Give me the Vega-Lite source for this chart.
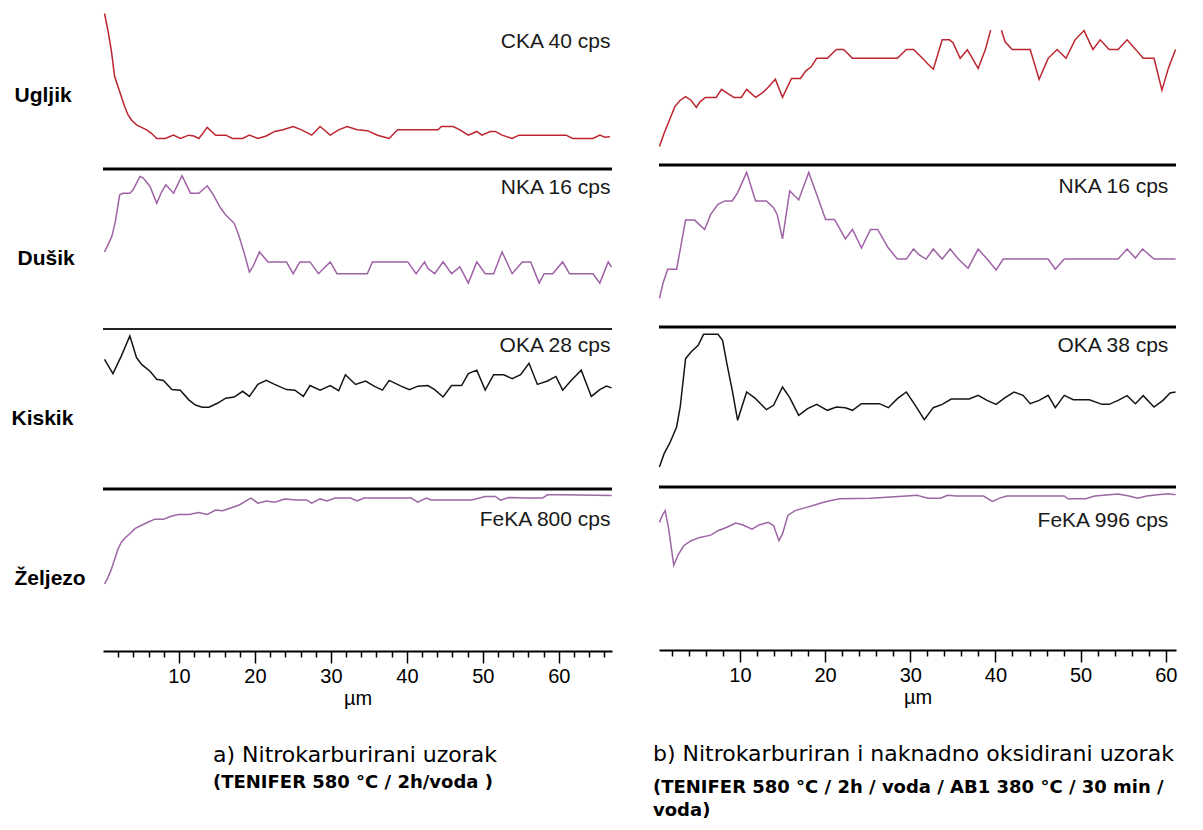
{
  "$schema": "https://vega.github.io/schema/vega-lite/v6.json",
  "padding": {"left": 11, "top": 4, "right": 0, "bottom": 0},
  "config": {"view": {"stroke": null}, "axis": {"grid": false}, "font": "Liberation Sans"},
  "datasets": {
    "aC": [{"x":0.2,"v":37.7},{"x":0.64,"v":33.7},{"x":1.09,"v":28.8},{"x":1.53,"v":22.4},{"x":1.97,"v":20.0},{"x":2.42,"v":17.5},{"x":2.86,"v":15.1},{"x":3.3,"v":13.1},{"x":3.75,"v":11.9},{"x":4.41,"v":10.7},{"x":5.08,"v":10.1},{"x":5.74,"v":9.5},{"x":6.41,"v":8.6},{"x":7.07,"v":7.4},{"x":8.18,"v":7.4},{"x":9.29,"v":8.2},{"x":10.18,"v":7.4},{"x":11.29,"v":8.2},{"x":11.95,"v":8.0},{"x":12.62,"v":7.4},{"x":13.72,"v":10.1},{"x":14.83,"v":8.2},{"x":16.16,"v":8.2},{"x":17.05,"v":7.4},{"x":18.38,"v":7.4},{"x":19.27,"v":8.2},{"x":20.38,"v":7.4},{"x":21.49,"v":8.0},{"x":22.59,"v":9.1},{"x":23.7,"v":9.5},{"x":25.03,"v":10.3},{"x":26.14,"v":9.5},{"x":27.47,"v":8.2},{"x":28.58,"v":10.3},{"x":29.91,"v":8.2},{"x":31.02,"v":9.5},{"x":32.13,"v":10.3},{"x":33.46,"v":9.5},{"x":34.79,"v":9.3},{"x":36.12,"v":8.2},{"x":37.67,"v":7.4},{"x":38.78,"v":9.5},{"x":40.11,"v":9.5},{"x":44.1,"v":9.5},{"x":44.54,"v":10.3},{"x":46.1,"v":10.3},{"x":46.98,"v":9.5},{"x":48.09,"v":8.2},{"x":49.2,"v":9.1},{"x":49.87,"v":8.2},{"x":50.98,"v":9.1},{"x":51.64,"v":9.1},{"x":52.53,"v":8.2},{"x":53.86,"v":7.4},{"x":54.75,"v":8.2},{"x":56.08,"v":8.2},{"x":60.96,"v":8.2},{"x":61.84,"v":7.4},{"x":64.5,"v":7.4},{"x":65.39,"v":8.2},{"x":66.06,"v":7.7},{"x":66.72,"v":7.8}],
    "aN": [{"x":0.2,"v":7.71},{"x":0.64,"v":8.39},{"x":1.18,"v":9.29},{"x":1.62,"v":10.73},{"x":2.2,"v":13.42},{"x":2.64,"v":13.58},{"x":3.53,"v":13.58},{"x":3.97,"v":13.92},{"x":4.86,"v":15.26},{"x":5.3,"v":15.09},{"x":6.19,"v":14.25},{"x":7.07,"v":12.58},{"x":7.74,"v":13.75},{"x":8.27,"v":14.42},{"x":9.29,"v":13.58},{"x":10.4,"v":15.33},{"x":11.51,"v":13.58},{"x":12.62,"v":13.58},{"x":13.72,"v":14.32},{"x":14.39,"v":13.58},{"x":15.5,"v":12.07},{"x":16.16,"v":11.4},{"x":17.27,"v":10.57},{"x":17.94,"v":9.22},{"x":18.6,"v":7.55},{"x":19.27,"v":5.7},{"x":19.71,"v":6.2},{"x":20.6,"v":7.71},{"x":21.71,"v":6.71},{"x":24.15,"v":6.71},{"x":25.03,"v":5.53},{"x":25.92,"v":6.71},{"x":27.25,"v":6.71},{"x":28.36,"v":5.53},{"x":29.91,"v":6.71},{"x":30.8,"v":5.53},{"x":34.79,"v":5.53},{"x":35.46,"v":6.71},{"x":40.11,"v":6.71},{"x":41.22,"v":5.53},{"x":42.33,"v":6.71},{"x":42.77,"v":6.04},{"x":43.66,"v":5.53},{"x":44.77,"v":6.71},{"x":45.88,"v":5.53},{"x":46.98,"v":6.2},{"x":48.09,"v":4.59},{"x":49.2,"v":6.71},{"x":50.31,"v":5.53},{"x":51.42,"v":5.53},{"x":52.53,"v":7.71},{"x":53.86,"v":5.53},{"x":55.19,"v":6.71},{"x":56.3,"v":6.71},{"x":57.41,"v":4.59},{"x":58.07,"v":5.53},{"x":59.18,"v":5.53},{"x":60.51,"v":6.71},{"x":61.4,"v":5.53},{"x":64.5,"v":5.53},{"x":65.39,"v":4.59},{"x":66.5,"v":6.71},{"x":66.94,"v":6.2}],
    "aO": [{"x":0.2,"v":22.7},{"x":1.31,"v":20.2},{"x":2.42,"v":23.3},{"x":3.53,"v":26.8},{"x":4.41,"v":23.0},{"x":5.08,"v":21.8},{"x":6.19,"v":20.6},{"x":7.07,"v":19.2},{"x":7.96,"v":19.0},{"x":9.07,"v":17.4},{"x":10.18,"v":17.3},{"x":11.29,"v":15.6},{"x":12.17,"v":14.7},{"x":13.06,"v":14.3},{"x":13.95,"v":14.3},{"x":15.05,"v":15.0},{"x":16.16,"v":15.9},{"x":17.27,"v":16.1},{"x":18.38,"v":17.1},{"x":19.27,"v":16.2},{"x":20.38,"v":18.3},{"x":21.49,"v":19.0},{"x":22.59,"v":18.3},{"x":24.15,"v":17.4},{"x":25.26,"v":17.3},{"x":26.37,"v":16.2},{"x":27.25,"v":18.1},{"x":28.58,"v":17.3},{"x":29.91,"v":18.1},{"x":31.02,"v":17.2},{"x":31.91,"v":20.0},{"x":33.24,"v":18.3},{"x":34.57,"v":18.9},{"x":35.68,"v":18.0},{"x":36.78,"v":17.3},{"x":37.67,"v":19.0},{"x":39.23,"v":18.0},{"x":40.33,"v":17.4},{"x":41.44,"v":18.0},{"x":42.77,"v":18.1},{"x":43.66,"v":17.4},{"x":44.77,"v":16.1},{"x":45.88,"v":18.1},{"x":47.2,"v":18.1},{"x":48.09,"v":20.2},{"x":49.2,"v":20.8},{"x":50.31,"v":17.3},{"x":51.42,"v":20.0},{"x":52.75,"v":20.0},{"x":53.86,"v":19.3},{"x":54.97,"v":20.0},{"x":56.08,"v":22.0},{"x":57.18,"v":18.3},{"x":58.51,"v":18.9},{"x":59.62,"v":19.7},{"x":60.51,"v":17.3},{"x":61.62,"v":19.0},{"x":62.95,"v":20.8},{"x":64.28,"v":16.2},{"x":65.39,"v":17.4},{"x":66.28,"v":18.0},{"x":66.94,"v":17.7}],
    "aFe": [{"x":0.2,"v":332},{"x":0.64,"v":361},{"x":1.09,"v":403},{"x":1.53,"v":453},{"x":1.97,"v":503},{"x":2.42,"v":537},{"x":2.86,"v":557},{"x":3.53,"v":579},{"x":4.19,"v":604},{"x":5.08,"v":621},{"x":5.96,"v":637},{"x":6.85,"v":651},{"x":7.96,"v":651},{"x":9.07,"v":667},{"x":9.95,"v":674},{"x":11.29,"v":674},{"x":12.62,"v":684},{"x":13.72,"v":674},{"x":14.83,"v":696},{"x":15.72,"v":693},{"x":16.61,"v":704},{"x":17.94,"v":721},{"x":19.05,"v":746},{"x":19.49,"v":755},{"x":20.38,"v":730},{"x":21.49,"v":741},{"x":22.59,"v":735},{"x":23.92,"v":751},{"x":25.48,"v":746},{"x":26.81,"v":746},{"x":27.47,"v":730},{"x":28.58,"v":751},{"x":29.47,"v":741},{"x":30.58,"v":755},{"x":32.57,"v":755},{"x":33.46,"v":741},{"x":34.35,"v":755},{"x":40.56,"v":755},{"x":41.44,"v":735},{"x":42.55,"v":755},{"x":43.21,"v":746},{"x":48.54,"v":746},{"x":50.31,"v":763},{"x":51.64,"v":763},{"x":52.31,"v":745},{"x":53.42,"v":758},{"x":55.63,"v":755},{"x":57.85,"v":755},{"x":58.51,"v":771},{"x":60.51,"v":771},{"x":66.94,"v":768}],
    "bC": [{"x":0.55,"v":4.6,"seg":1},{"x":1.1,"v":7.9,"seg":1},{"x":1.73,"v":11.2,"seg":1},{"x":2.36,"v":14.5,"seg":1},{"x":2.99,"v":16.1,"seg":1},{"x":3.62,"v":17.0,"seg":1},{"x":4.26,"v":16.1,"seg":1},{"x":4.89,"v":14.3,"seg":1},{"x":5.31,"v":15.7,"seg":1},{"x":5.94,"v":16.8,"seg":1},{"x":7.21,"v":16.8,"seg":1},{"x":7.84,"v":18.8,"seg":1},{"x":8.68,"v":17.6,"seg":1},{"x":9.31,"v":16.8,"seg":1},{"x":10.16,"v":16.8,"seg":1},{"x":10.79,"v":18.8,"seg":1},{"x":11.84,"v":16.8,"seg":1},{"x":12.68,"v":18.0,"seg":1},{"x":13.32,"v":19.3,"seg":1},{"x":14.16,"v":21.3,"seg":1},{"x":15.0,"v":16.8,"seg":1},{"x":16.06,"v":21.5,"seg":1},{"x":17.11,"v":21.5,"seg":1},{"x":17.74,"v":23.4,"seg":1},{"x":18.37,"v":24.4,"seg":1},{"x":19.01,"v":26.5,"seg":1},{"x":20.27,"v":26.5,"seg":1},{"x":21.32,"v":28.7,"seg":1},{"x":22.17,"v":28.7,"seg":1},{"x":23.22,"v":26.5,"seg":1},{"x":28.49,"v":26.5,"seg":1},{"x":29.54,"v":28.7,"seg":1},{"x":30.38,"v":28.7,"seg":1},{"x":31.44,"v":26.5,"seg":1},{"x":32.07,"v":25.1,"seg":1},{"x":32.71,"v":23.8,"seg":1},{"x":33.75,"v":31.1,"seg":1},{"x":34.6,"v":31.1,"seg":1},{"x":35.02,"v":30.4,"seg":1},{"x":35.86,"v":26.5,"seg":1},{"x":36.7,"v":28.6,"seg":1},{"x":37.13,"v":27.1,"seg":1},{"x":37.97,"v":24.0,"seg":1},{"x":38.81,"v":28.6,"seg":1},{"x":39.44,"v":33.5,"seg":1},{"x":40.71,"v":33.5,"seg":2},{"x":41.13,"v":30.6,"seg":2},{"x":41.97,"v":28.7,"seg":2},{"x":44.08,"v":28.7,"seg":2},{"x":45.13,"v":21.3,"seg":2},{"x":46.19,"v":26.5,"seg":2},{"x":47.24,"v":28.7,"seg":2},{"x":48.29,"v":26.5,"seg":2},{"x":49.35,"v":31.1,"seg":2},{"x":50.4,"v":33.4,"seg":2},{"x":51.45,"v":28.7,"seg":2},{"x":52.3,"v":31.1,"seg":2},{"x":53.35,"v":28.7,"seg":2},{"x":54.4,"v":28.7,"seg":2},{"x":55.46,"v":31.1,"seg":2},{"x":56.51,"v":28.6,"seg":2},{"x":57.35,"v":26.5,"seg":2},{"x":58.62,"v":26.5,"seg":2},{"x":59.55,"v":18.6,"seg":2},{"x":60.3,"v":24.0,"seg":2},{"x":61.15,"v":28.7,"seg":2}],
    "bN": [{"x":0.55,"v":2.82},{"x":0.97,"v":4.32},{"x":1.52,"v":5.71},{"x":2.57,"v":5.71},{"x":2.99,"v":7.64},{"x":3.62,"v":10.56},{"x":4.68,"v":10.56},{"x":5.86,"v":9.63},{"x":6.57,"v":11.12},{"x":7.42,"v":12.12},{"x":8.26,"v":12.45},{"x":9.1,"v":12.45},{"x":9.73,"v":13.28},{"x":10.79,"v":15.27},{"x":11.84,"v":12.45},{"x":13.11,"v":12.45},{"x":13.95,"v":11.79},{"x":14.37,"v":11.12},{"x":15.0,"v":8.7},{"x":15.85,"v":13.45},{"x":16.9,"v":12.55},{"x":18.08,"v":15.27},{"x":19.22,"v":12.62},{"x":20.06,"v":10.62},{"x":21.11,"v":10.62},{"x":22.38,"v":8.7},{"x":23.22,"v":9.63},{"x":24.27,"v":7.8},{"x":25.33,"v":9.63},{"x":26.17,"v":9.63},{"x":27.43,"v":7.8},{"x":28.49,"v":6.71},{"x":29.54,"v":6.71},{"x":30.38,"v":7.7},{"x":31.02,"v":7.14},{"x":31.86,"v":6.71},{"x":32.7,"v":7.7},{"x":33.75,"v":6.71},{"x":34.68,"v":7.7},{"x":35.65,"v":6.71},{"x":36.79,"v":5.81},{"x":37.97,"v":7.7},{"x":39.02,"v":6.71},{"x":40.08,"v":5.64},{"x":40.92,"v":6.71},{"x":46.19,"v":6.71},{"x":47.03,"v":5.71},{"x":48.08,"v":6.71},{"x":54.4,"v":6.71},{"x":55.46,"v":7.7},{"x":56.43,"v":6.81},{"x":57.27,"v":7.7},{"x":58.62,"v":6.71},{"x":61.15,"v":6.71}],
    "bO": [{"x":0.55,"v":4.75},{"x":1.1,"v":7.92},{"x":1.73,"v":10.29},{"x":2.57,"v":14.25},{"x":2.99,"v":19.0},{"x":3.62,"v":30.48},{"x":4.26,"v":32.06},{"x":5.1,"v":33.65},{"x":5.73,"v":36.26},{"x":7.42,"v":36.26},{"x":7.96,"v":34.83},{"x":8.47,"v":29.29},{"x":9.1,"v":22.96},{"x":9.73,"v":15.83},{"x":10.16,"v":18.6},{"x":10.79,"v":22.56},{"x":11.84,"v":20.98},{"x":13.11,"v":18.37},{"x":13.95,"v":19.4},{"x":15.0,"v":23.75},{"x":15.85,"v":21.22},{"x":16.9,"v":17.02},{"x":17.95,"v":18.6},{"x":19.01,"v":19.63},{"x":20.27,"v":18.21},{"x":21.32,"v":19.0},{"x":22.38,"v":18.84},{"x":23.22,"v":18.21},{"x":24.27,"v":19.79},{"x":26.38,"v":19.79},{"x":27.43,"v":18.84},{"x":28.49,"v":20.98},{"x":29.54,"v":22.56},{"x":30.59,"v":19.4},{"x":31.65,"v":15.99},{"x":32.7,"v":18.84},{"x":33.75,"v":19.63},{"x":34.81,"v":20.9},{"x":36.92,"v":20.9},{"x":37.97,"v":21.77},{"x":39.02,"v":20.58},{"x":40.08,"v":19.63},{"x":41.13,"v":21.22},{"x":42.18,"v":22.56},{"x":43.24,"v":21.77},{"x":44.08,"v":19.79},{"x":45.13,"v":20.58},{"x":46.19,"v":21.77},{"x":47.03,"v":18.84},{"x":48.08,"v":21.77},{"x":49.14,"v":20.74},{"x":51.03,"v":20.74},{"x":52.51,"v":19.63},{"x":53.35,"v":19.63},{"x":54.4,"v":20.58},{"x":55.46,"v":21.69},{"x":56.43,"v":19.79},{"x":57.35,"v":21.69},{"x":58.62,"v":19.0},{"x":59.67,"v":20.58},{"x":60.51,"v":22.33},{"x":61.15,"v":22.56}],
    "bFe": [{"x":0.55,"v":780},{"x":0.88,"v":822},{"x":1.22,"v":852},{"x":1.64,"v":739},{"x":2.23,"v":518},{"x":2.78,"v":585},{"x":3.41,"v":637},{"x":4.26,"v":668},{"x":5.31,"v":688},{"x":6.57,"v":702},{"x":7.42,"v":729},{"x":8.47,"v":750},{"x":9.52,"v":776},{"x":10.37,"v":764},{"x":11.42,"v":739},{"x":12.26,"v":764},{"x":13.32,"v":780},{"x":13.95,"v":760},{"x":14.58,"v":668},{"x":15.0,"v":709},{"x":15.63,"v":822},{"x":16.48,"v":852},{"x":17.53,"v":867},{"x":18.58,"v":883},{"x":19.64,"v":900},{"x":20.69,"v":914},{"x":21.74,"v":924},{"x":25.33,"v":928},{"x":29.54,"v":941},{"x":30.8,"v":945},{"x":32.07,"v":928},{"x":33.54,"v":928},{"x":34.39,"v":945},{"x":35.44,"v":941},{"x":38.6,"v":941},{"x":39.65,"v":908},{"x":40.5,"v":928},{"x":41.34,"v":941},{"x":48.08,"v":941},{"x":48.5,"v":924},{"x":50.61,"v":924},{"x":51.66,"v":941},{"x":54.4,"v":953},{"x":55.67,"v":941},{"x":56.72,"v":928},{"x":57.77,"v":941},{"x":59.04,"v":949},{"x":60.3,"v":955},{"x":61.15,"v":949}]
  },
  "spacing": 38,
  "hconcat": [
    {
      "vconcat": [
        {
          "width": 509, "height": 165,
          "layer": [
            {"data": {"name": "aC"}, "mark": {"type": "line", "color": "#bb2630", "strokeWidth": 1.5},
             "encoding": {"x": {"field": "x", "type": "quantitative", "scale": {"domain": [0, 67], "nice": false}, "axis": null},
                          "y": {"field": "v", "type": "quantitative", "scale": {"domain": [0, 40], "nice": false},
                                "axis": {"title": "Ugljik", "minExtent": 0, "titleAngle": 0, "titleAlign": "left", "titleBaseline": "middle", "titleX": -89, "titleY": 91, "titleFontSize": 21, "titleFontWeight": "bold", "titleColor": "black", "domain": false, "ticks": false, "labels": false}}}},
            {"data": {"values": [{"t": "CKA 40 cps"}]}, "mark": {"type": "text", "align": "right", "baseline": "middle", "fontSize": 21, "color": "#1a1a1a"},
             "encoding": {"x": {"datum": 66.8}, "y": {"datum": 30.8}, "text": {"field": "t"}}}
          ]
        },
        {
          "width": 509, "height": 160,
          "layer": [
            {"data": {"name": "aN"}, "mark": {"type": "line", "color": "#a062a7", "strokeWidth": 1.5},
             "encoding": {"x": {"field": "x", "type": "quantitative", "scale": {"domain": [0, 67], "nice": false}, "axis": null},
                          "y": {"field": "v", "type": "quantitative", "scale": {"domain": [0, 16], "nice": false},
                                "axis": {"title": "Dušik", "minExtent": 0, "titleAngle": 0, "titleAlign": "left", "titleBaseline": "middle", "titleX": -86, "titleY": 89, "titleFontSize": 21, "titleFontWeight": "bold", "titleColor": "black", "domain": false, "ticks": false, "labels": false}}}},
            {"data": {"values": [{}]}, "mark": {"type": "rule", "color": "black", "strokeWidth": 3}, "encoding": {"y": {"datum": 16}}},
            {"data": {"values": [{"t": "NKA 16 cps"}]}, "mark": {"type": "text", "align": "right", "baseline": "middle", "fontSize": 21, "color": "#1a1a1a"},
             "encoding": {"x": {"datum": 66.8}, "y": {"datum": 14.1}, "text": {"field": "t"}}}
          ]
        },
        {
          "width": 509, "height": 160,
          "layer": [
            {"data": {"name": "aO"}, "mark": {"type": "line", "color": "#151515", "strokeWidth": 1.5},
             "encoding": {"x": {"field": "x", "type": "quantitative", "scale": {"domain": [0, 67], "nice": false}, "axis": null},
                          "y": {"field": "v", "type": "quantitative", "scale": {"domain": [0, 28], "nice": false},
                                "axis": {"title": "Kiskik", "minExtent": 0, "titleAngle": 0, "titleAlign": "left", "titleBaseline": "middle", "titleX": -92, "titleY": 89, "titleFontSize": 21, "titleFontWeight": "bold", "titleColor": "black", "domain": false, "ticks": false, "labels": false}}}},
            {"data": {"values": [{}]}, "mark": {"type": "rule", "color": "#222", "strokeWidth": 1.8}, "encoding": {"y": {"datum": 28}}},
            {"data": {"values": [{"t": "OKA 28 cps"}]}, "mark": {"type": "text", "align": "right", "baseline": "middle", "fontSize": 21, "color": "#1a1a1a"},
             "encoding": {"x": {"datum": 66.8}, "y": {"datum": 25.0}, "text": {"field": "t"}}}
          ]
        },
        {
          "width": 509, "height": 162,
          "layer": [
            {"data": {"name": "aFe"}, "mark": {"type": "line", "color": "#9d66a5", "strokeWidth": 1.5},
             "encoding": {"x": {"field": "x", "type": "quantitative", "scale": {"domain": [0, 67], "nice": false},
                                "axis": {"values": [2,4,6,8,10,12,14,16,18,20,22,24,26,28,30,32,34,36,38,40,42,44,46,48,50,52,54,56,58,60,62,64,66],
                                         "tickCount": 200, "format": "d",
                                         "labelExpr": "datum.value % 10 === 0 ? datum.label : ''",
                                         "labelOverlap": false,
                                         "tickSize": {"condition": {"test": "datum.value % 10 === 0", "value": 12}, "value": 6},
                                         "tickColor": "black", "tickWidth": 1.5, "domainColor": "black", "domainWidth": 2,
                                         "labelFontSize": 20, "labelColor": "black", "labelPadding": 3, "labelFlush": false,
                                         "title": "µm", "titleFontSize": 20, "titleFontWeight": "normal", "titleColor": "black", "titlePadding": 2}},
                          "y": {"field": "v", "type": "quantitative", "scale": {"domain": [0, 800], "nice": false},
                                "axis": {"title": "Željezo", "minExtent": 0, "titleAngle": 0, "titleAlign": "left", "titleBaseline": "middle", "titleX": -89, "titleY": 89, "titleFontSize": 21, "titleFontWeight": "bold", "titleColor": "black", "domain": false, "ticks": false, "labels": false}}}},
            {"data": {"values": [{}]}, "mark": {"type": "rule", "color": "black", "strokeWidth": 3}, "encoding": {"y": {"datum": 800}}},
            {"data": {"values": [{"t": "FeKA 800 cps"}]}, "mark": {"type": "text", "align": "right", "baseline": "middle", "fontSize": 21, "color": "#1a1a1a"},
             "encoding": {"x": {"datum": 66.8}, "y": {"datum": 647}, "text": {"field": "t"}}}
          ]
        }
      ],
      "spacing": 0,
      "bounds": "flush",
      "title": {"text": "a) Nitrokarburirani uzorak", "subtitle": "(TENIFER 580 °C / 2h/voda )", "orient": "bottom", "anchor": "start", "frame": "group", "offset": 37, "dx": 110,
                "font": "DejaVu Sans", "fontSize": 22, "fontWeight": "normal", "color": "black", "subtitleFont": "DejaVu Sans", "subtitleFontSize": 18, "subtitleFontWeight": "bold", "subtitleColor": "black", "subtitlePadding": 7}
    },
    {
      "vconcat": [
        {
          "width": 517, "height": 161,
          "layer": [
            {"data": {"name": "bC"}, "mark": {"type": "line", "color": "#bb2630", "strokeWidth": 1.5},
             "encoding": {"x": {"field": "x", "type": "quantitative", "scale": {"domain": [0.5, 61.2], "nice": false}, "axis": null},
                          "y": {"field": "v", "type": "quantitative", "scale": {"domain": [0, 40], "nice": false}, "axis": null},
                          "detail": {"field": "seg", "type": "nominal"}}}
          ]
        },
        {
          "width": 517, "height": 162,
          "layer": [
            {"data": {"name": "bN"}, "mark": {"type": "line", "color": "#a062a7", "strokeWidth": 1.5},
             "encoding": {"x": {"field": "x", "type": "quantitative", "scale": {"domain": [0.5, 61.2], "nice": false}, "axis": null},
                          "y": {"field": "v", "type": "quantitative", "scale": {"domain": [0, 16], "nice": false}, "axis": null}}},
            {"data": {"values": [{}]}, "mark": {"type": "rule", "color": "black", "strokeWidth": 3}, "encoding": {"y": {"datum": 16}}},
            {"data": {"values": [{"t": "NKA 16 cps"}]}, "mark": {"type": "text", "align": "right", "baseline": "middle", "fontSize": 21, "color": "#1a1a1a"},
             "encoding": {"x": {"datum": 60.3}, "y": {"datum": 13.8}, "text": {"field": "t"}}}
          ]
        },
        {
          "width": 517, "height": 160,
          "layer": [
            {"data": {"name": "bO"}, "mark": {"type": "line", "color": "#151515", "strokeWidth": 1.5},
             "encoding": {"x": {"field": "x", "type": "quantitative", "scale": {"domain": [0.5, 61.2], "nice": false}, "axis": null},
                          "y": {"field": "v", "type": "quantitative", "scale": {"domain": [0, 38], "nice": false}, "axis": null}}},
            {"data": {"values": [{}]}, "mark": {"type": "rule", "color": "black", "strokeWidth": 3}, "encoding": {"y": {"datum": 38}}},
            {"data": {"values": [{"t": "OKA 38 cps"}]}, "mark": {"type": "text", "align": "right", "baseline": "middle", "fontSize": 21, "color": "#1a1a1a"},
             "encoding": {"x": {"datum": 60.3}, "y": {"datum": 33.5}, "text": {"field": "t"}}}
          ]
        },
        {
          "width": 517, "height": 163,
          "layer": [
            {"data": {"name": "bFe"}, "mark": {"type": "line", "color": "#9d66a5", "strokeWidth": 1.5},
             "encoding": {"x": {"field": "x", "type": "quantitative", "scale": {"domain": [0.5, 61.2], "nice": false},
                                "axis": {"values": [2,4,6,8,10,12,14,16,18,20,22,24,26,28,30,32,34,36,38,40,42,44,46,48,50,52,54,56,58,60],
                                         "tickCount": 200, "format": "d",
                                         "labelExpr": "datum.value % 10 === 0 ? datum.label : ''",
                                         "labelOverlap": false,
                                         "tickSize": {"condition": {"test": "datum.value % 10 === 0", "value": 12}, "value": 6},
                                         "tickColor": "black", "tickWidth": 1.5, "domainColor": "black", "domainWidth": 2,
                                         "labelFontSize": 20, "labelColor": "black", "labelPadding": 3, "labelFlush": false,
                                         "title": "µm", "titleFontSize": 20, "titleFontWeight": "normal", "titleColor": "black", "titlePadding": 2}},
                          "y": {"field": "v", "type": "quantitative", "scale": {"domain": [0, 996], "nice": false}, "axis": null}}},
            {"data": {"values": [{}]}, "mark": {"type": "rule", "color": "black", "strokeWidth": 3}, "encoding": {"y": {"datum": 996}}},
            {"data": {"values": [{"t": "FeKA 996 cps"}]}, "mark": {"type": "text", "align": "right", "baseline": "middle", "fontSize": 21, "color": "#1a1a1a"},
             "encoding": {"x": {"datum": 60.3}, "y": {"datum": 788}, "text": {"field": "t"}}}
          ]
        }
      ],
      "spacing": 0,
      "bounds": "flush",
      "title": {"text": "b) Nitrokarburiran i naknadno oksidirani uzorak", "subtitle": ["(TENIFER 580 °C / 2h / voda / AB1 380 °C / 30 min /", "voda)"], "orient": "bottom", "anchor": "start", "frame": "group", "offset": 37, "dx": -6,
                "font": "DejaVu Sans", "fontSize": 22, "fontWeight": "normal", "color": "black", "subtitleFont": "DejaVu Sans", "subtitleFontSize": 18, "subtitleFontWeight": "bold", "subtitleColor": "black", "subtitlePadding": 13, "subtitleLineHeight": 23}
    }
  ]
}
